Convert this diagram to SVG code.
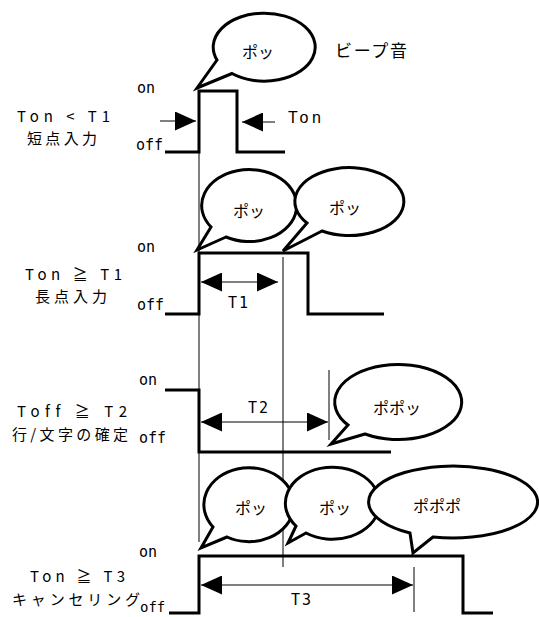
<svg xmlns="http://www.w3.org/2000/svg" width="539" height="617" viewBox="0 0 539 617">
<style>
.thick{stroke:#000;stroke-width:3;fill:none;stroke-linejoin:miter}
.thin{stroke:#000;stroke-width:1;fill:none}
.bub{fill:#fff;stroke:#000;stroke-width:3;stroke-linejoin:miter}
.jp{font-family:"Noto Sans CJK JP","DejaVu Sans",sans-serif;font-size:15px;fill:#000;font-variant-ligatures:none}
.bt{font-family:"Noto Sans CJK JP",sans-serif;font-size:16px;fill:#000;text-anchor:middle}
.mono{font-family:"DejaVu Sans Mono",monospace;font-size:15px;fill:#000}
.tl{font-family:"DejaVu Sans Mono",monospace;font-size:15px;fill:#000;text-anchor:middle;letter-spacing:2px}
</style>
<defs>
<marker id="ah" viewBox="0 0 21 19" refX="21" refY="9.5" markerWidth="21" markerHeight="19" markerUnits="userSpaceOnUse" orient="auto-start-reverse">
<path d="M0,0 L21,9.5 L0,19 Z" fill="#000"/>
</marker>
</defs>

<g id="connectors">
<line class="thin" x1="199" y1="152" x2="199" y2="542"/>
<line class="thin" x1="283" y1="257" x2="283" y2="567"/>
<line class="thin" x1="329" y1="370" x2="329" y2="440"/>
<line class="thin" x1="414" y1="567" x2="414" y2="612"/>
<line class="thin" x1="160" y1="121" x2="196" y2="121" marker-end="url(#ah)"/>
<line class="thin" x1="275" y1="122" x2="242" y2="122" marker-end="url(#ah)"/>
<line class="thin" x1="201" y1="282" x2="278" y2="282" marker-start="url(#ah)" marker-end="url(#ah)"/>
<line class="thin" x1="201" y1="422" x2="328" y2="422" marker-start="url(#ah)" marker-end="url(#ah)"/>
<line class="thin" x1="201" y1="585" x2="413" y2="585" marker-start="url(#ah)" marker-end="url(#ah)"/>
</g>

<g id="signal1">
<polyline class="thick" points="165,152 199,152 199,91 237,91 237,152 285,152"/>
<text class="mono" x="137" y="93">on</text>
<text class="mono" x="136" y="150">off</text>
<text class="jp" x="17" y="122" textLength="93" lengthAdjust="spacing">Ton &lt; T1</text>
<text class="jp" x="27" y="144" textLength="70" lengthAdjust="spacing">短点入力</text>
<text x="288" y="123" style="font-family:'Liberation Sans',sans-serif;font-size:16px" textLength="33" lengthAdjust="spacing">Ton</text>
</g>

<g id="bubble1">
<path class="bub" d="M232,73.5 L197,88 L217,60 A51,34 0 1,1 232,73.5 Z"/>
<text class="bt" x="258" y="58">ポッ</text>
</g>
<g id="legend">
<text class="jp" x="335" y="57" style="font-size:17px" textLength="72" lengthAdjust="spacing">ビープ音</text>
</g>

<g id="signal2">
<polyline class="thick" points="165,314 199,314 199,253 308,253 308,314 384,314"/>
<text class="mono" x="137" y="252">on</text>
<text class="mono" x="137" y="310">off</text>
<text class="jp" x="25" y="280" textLength="97" lengthAdjust="spacing">Ton ≧ T1</text>
<text class="jp" x="35" y="302" textLength="72" lengthAdjust="spacing">長点入力</text>
<text class="tl" x="239" y="308">T1</text>
</g>
<g id="bubble2a">
<path class="bub" d="M226,237 L197,250 L211,227 A47.5,36 0 1,1 226,237 Z"/>
<text class="bt" x="249" y="217">ポッ</text>
</g>
<g id="bubble2b">
<path class="bub" d="M322,231 L283,251 L307,223 A54.5,34 0 1,1 322,231 Z"/>
<text class="bt" x="345" y="214">ポッ</text>
</g>

<g id="signal3">
<polyline class="thick" points="165,390 199,390 199,452 391,452"/>
<text class="mono" x="139" y="385">on</text>
<text class="mono" x="139" y="443">off</text>
<text class="jp" x="17" y="417" textLength="110" lengthAdjust="spacing">Toff ≧ T2</text>
<text class="jp" x="12" y="440" textLength="116" lengthAdjust="spacing">行/文字の確定</text>
<text class="tl" x="259" y="413">T2</text>
</g>
<g id="bubble3">
<path class="bub" d="M365,434 L331,444 L348,425 A63.5,37.5 0 1,1 365,434 Z"/>
<text class="bt" x="397" y="414">ポポッ</text>
</g>

<g id="signal4">
<polyline class="thick" points="169,613 199,613 199,556 463,556 463,613 493,613"/>
<text class="mono" x="139" y="557">on</text>
<text class="mono" x="140" y="612" style="font-size:14px">off</text>
<text class="jp" x="30" y="582" textLength="95" lengthAdjust="spacing">Ton ≧ T3</text>
<text class="jp" x="12" y="605" textLength="128" lengthAdjust="spacing">キャンセリング</text>
<text class="tl" x="302" y="605">T3</text>
</g>
<g id="bubble4a">
<path class="bub" d="M227,537 L201,548 L213,527 A45,37 0 1,1 227,537 Z"/>
<text class="bt" x="251" y="514">ポッ</text>
</g>
<g id="bubble4b">
<path class="bub" d="M306,533 L288,543 L296,526 A47,36 0 1,1 306,533 Z"/>
<text class="bt" x="335" y="514">ポッ</text>
</g>
<g id="bubble4c">
<path class="bub" d="M433,537 L413,553 L410,533 A84.5,36 0 1,1 433,537 Z"/>
<text class="bt" x="437" y="512">ポポポ</text>
</g>
</svg>
